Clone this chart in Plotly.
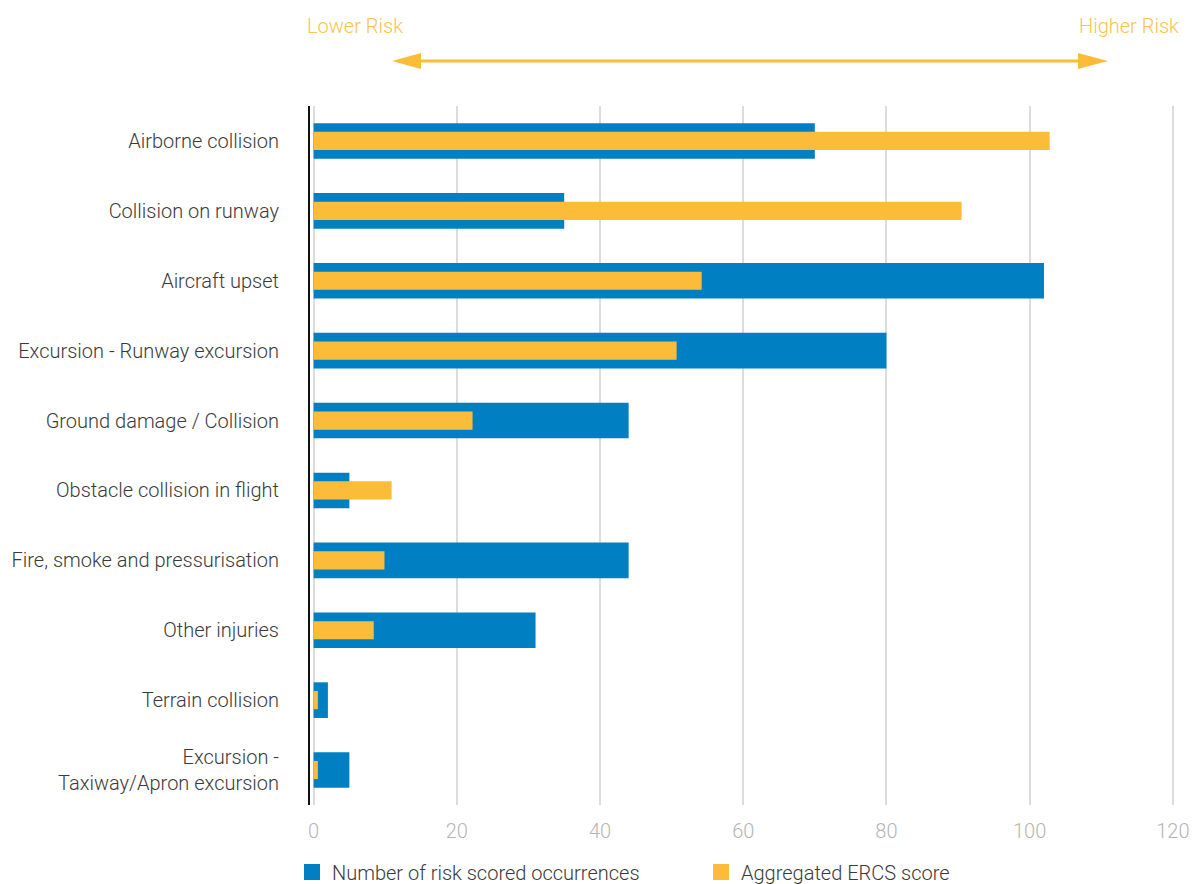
import plotly.graph_objects as go

categories = [
    "Airborne collision",
    "Collision on runway",
    "Aircraft upset",
    "Excursion - Runway excursion",
    "Ground damage / Collision",
    "Obstacle collision in flight",
    "Fire, smoke and pressurisation",
    "Other injuries",
    "Terrain collision",
    "Excursion -<br>Taxiway/Apron excursion",
]
occurrences = [70, 35, 102, 80, 44, 5, 44, 31, 2, 5]
ercs_score = [102.8, 90.5, 54.2, 50.7, 22.2, 10.9, 9.9, 8.4, 0.6, 0.6]
x_ticks = [0, 20, 40, 60, 80, 100, 120]
series_names = ["Number of risk scored occurrences", "Aggregated ERCS score"]

BLUE = "#0080C3"
ORANGE = "#FBBC39"
FONT = "Roboto, Liberation Sans, sans-serif"
W = 300

# plot area (page pixels of the target layout)
PL, PR, PT, PB = 310, 1175, 106, 805


def px(xp):
    return (xp - PL) / (PR - PL)


def py(yp):
    return (PB - yp) / (PB - PT)


fig = go.Figure()
fig.add_trace(go.Bar(
    y=categories, x=occurrences, orientation="h", width=0.51,
    marker=dict(color=BLUE, line=dict(width=0)),
    name=series_names[0], showlegend=False,
))
fig.add_trace(go.Bar(
    y=categories, x=ercs_score, orientation="h", width=0.26,
    marker=dict(color=ORANGE, line=dict(width=0)),
    name=series_names[1], showlegend=False,
))
# legend entries with larger square symbols
for nm, col in zip(series_names, [BLUE, ORANGE]):
    fig.add_trace(go.Scatter(
        x=[None], y=[None], mode="markers", name=nm,
        marker=dict(symbol="square", size=16, color=col),
    ))

# Lower / Higher risk arrow (paper coordinates)
fig.add_shape(type="line", xref="paper", yref="paper",
              x0=px(419), x1=px(1080), y0=py(61), y1=py(61),
              line=dict(color=ORANGE, width=3))
fig.add_shape(type="path", xref="paper", yref="paper",
              path=f"M {px(392):.4f} {py(61):.4f} L {px(421):.4f} {py(53):.4f} "
                   f"L {px(421):.4f} {py(69):.4f} Z",
              fillcolor=ORANGE, line=dict(width=0))
fig.add_shape(type="path", xref="paper", yref="paper",
              path=f"M {px(1108):.4f} {py(61):.4f} L {px(1078):.4f} {py(53):.4f} "
                   f"L {px(1078):.4f} {py(69):.4f} Z",
              fillcolor=ORANGE, line=dict(width=0))
fig.add_annotation(text="Lower Risk", xref="paper", yref="paper",
                   x=px(305), y=py(26), xanchor="left", yanchor="middle",
                   showarrow=False,
                   font=dict(family=FONT, size=20, color="#FCC24E", weight=W))
fig.add_annotation(text="Higher Risk", xref="paper", yref="paper",
                   x=px(1181), y=py(26), xanchor="right", yanchor="middle",
                   showarrow=False,
                   font=dict(family=FONT, size=20, color="#FCC24E", weight=W))

# page is rendered with an 8px body margin -> figure offset by 8px
OFF = 8
fig.update_layout(
    width=1190, height=876,
    margin=dict(l=PL - OFF, r=1190 - (PR - OFF), t=PT - OFF, b=876 - (PB - OFF),
                autoexpand=False),
    barmode="overlay",
    plot_bgcolor="white", paper_bgcolor="white",
    font=dict(family=FONT, size=20, color="#3a3a3a", weight=W),
    xaxis=dict(
        range=[-0.5, 120.3], tickvals=x_ticks,
        showgrid=True, gridcolor="#dcdcdc", gridwidth=2,
        zeroline=False, showline=False, automargin=False,
        tickfont=dict(family=FONT, size=20, color="#b5b5b5", weight=W),
        ticks="outside", ticklen=8, tickcolor="rgba(0,0,0,0)",
    ),
    yaxis=dict(
        categoryorder="array", categoryarray=categories,
        autorange="reversed", automargin=False,
        showline=True, linecolor="#111111", linewidth=2,
        showgrid=False, zeroline=False,
        ticks="outside", ticklen=25, tickcolor="rgba(0,0,0,0)",
        tickfont=dict(family=FONT, size=20, color="#3a3a3a", weight=W),
    ),
    legend=dict(
        orientation="h", x=px(292), y=py(872), xanchor="left", yanchor="middle",
        font=dict(family=FONT, size=20, color="#3a3a3a", weight=W),
        entrywidth=364, entrywidthmode="pixels",
        traceorder="normal",
    ),
    showlegend=True,
)

fig.write_html("out.html")
